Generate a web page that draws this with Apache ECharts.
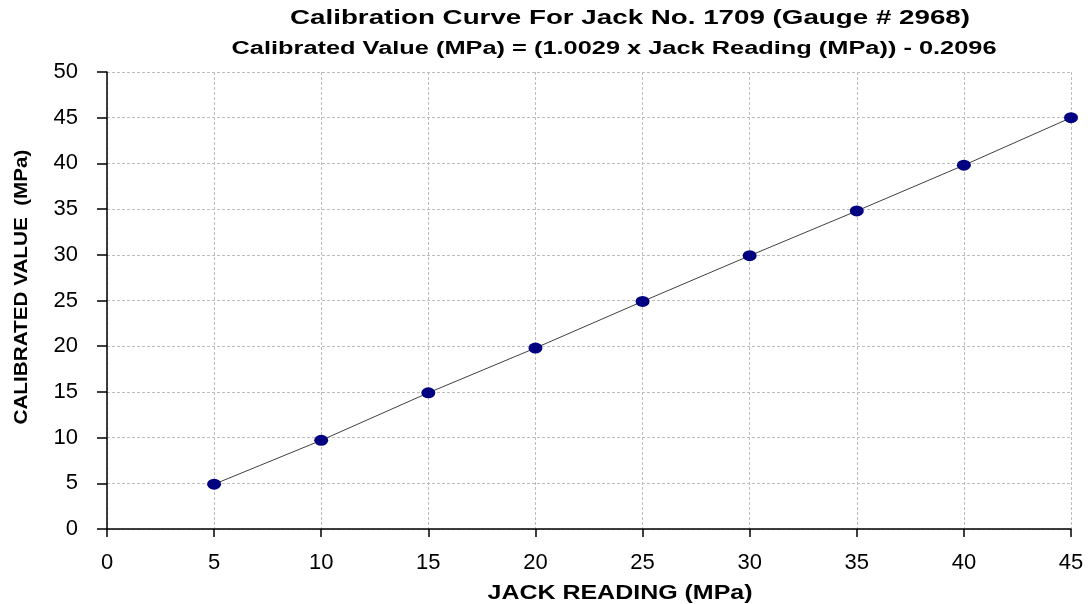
<!DOCTYPE html>
<html>
<head>
<meta charset="utf-8">
<script src="https://cdn.jsdelivr.net/npm/echarts@6/dist/echarts.min.js"></script>
<style>
  html, body { margin: 0; padding: 0; background: #fff; overflow: hidden; }
  #chart { width: 1091px; height: 604px; }
</style>
</head>
<body>
<div id="chart"></div>
<script>
// Jack readings (MPa) and the calibrated values measured for each
const jackReading = [5, 10, 15, 20, 25, 30, 35, 40, 45];
const calibratedValue = [4.9, 9.7, 14.9, 19.8, 24.9, 29.9, 34.8, 39.8, 45.0];

const titleText = 'Calibration Curve For Jack No. 1709 (Gauge # 2968)';
const subtitleText = 'Calibrated Value (MPa) = (1.0029 x Jack Reading (MPa)) - 0.2096';
const xAxisName = 'JACK READING (MPa)';
const yAxisName = 'CALIBRATED VALUE  (MPa)';

const points = jackReading.map((x, i) => [x, calibratedValue[i]]);

const fontFam = '"Liberation Sans", Arial, sans-serif';

// Wide-set lettering: measure the text and stretch it horizontally to a target width
const measureCtx = document.createElement('canvas').getContext('2d');
function stretchedText(text, size, width, x, y, rotation) {
  const font = 'bold ' + size + 'px ' + fontFam;
  measureCtx.font = font;
  const natural = measureCtx.measureText(text).width;
  return {
    type: 'text',
    x: x, y: y,
    rotation: rotation || 0,
    scaleX: width / natural,
    style: { text: text, font: font, fill: '#000', align: 'center', verticalAlign: 'middle' },
    silent: true
  };
}

const chart = echarts.init(document.getElementById('chart'), null, { renderer: 'canvas', width: 1091, height: 604 });

chart.setOption({
  backgroundColor: '#ffffff',
  animation: false,
  graphic: [
    stretchedText(titleText, 21, 680, 630, 18),
    stretchedText(subtitleText, 18, 765, 614, 49),
    stretchedText(xAxisName, 20, 265, 620, 593),
    stretchedText(yAxisName, 19, 275, 22, 287, Math.PI / 2)
  ],
  grid: { left: 107, width: 964, top: 72, height: 457, containLabel: false },
  xAxis: {
    type: 'value',
    min: 0, max: 45, interval: 5,
    axisLine: { onZero: false, lineStyle: { color: '#000', width: 1.5 } },
    axisTick: { show: true, inside: false, length: 8, lineStyle: { color: '#000', width: 1.5 } },
    axisLabel: { fontFamily: fontFam, fontSize: 22, color: '#000', margin: 23 },
    splitLine: { show: true, lineStyle: { color: '#bdbdbd', type: [3, 2], width: 1 } }
  },
  yAxis: {
    type: 'value',
    min: 0, max: 50, interval: 5,
    axisLine: { show: true, lineStyle: { color: '#000', width: 1.5 } },
    axisTick: { show: true, inside: false, length: 10, lineStyle: { color: '#000', width: 1.5 } },
    axisLabel: { fontFamily: fontFam, fontSize: 22, color: '#000', margin: 29 },
    splitLine: { show: true, lineStyle: { color: '#bdbdbd', type: [3, 2], width: 1 } }
  },
  series: [
    {
      type: 'line',
      data: points,
      symbol: 'circle',
      symbolSize: [14, 11],
      itemStyle: { color: '#000080' },
      lineStyle: { color: '#404040', width: 1 },
      z: 3
    }
  ]
});
</script>
</body>
</html>
